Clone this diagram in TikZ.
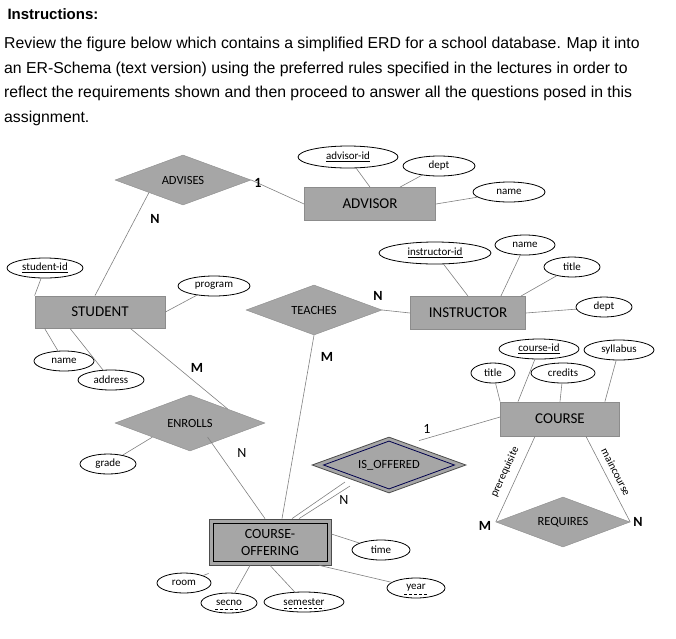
\documentclass[tikz,border=0pt]{standalone}
\usepackage{fontspec}
\setmainfont{Carlito}
\newfontfamily\arial{Liberation Sans}
\usetikzlibrary{shapes.geometric}
\definecolor{boxfill}{HTML}{A6A6A6}
\definecolor{boxline}{HTML}{8C8C8C}
\definecolor{ln}{HTML}{808080}
\begin{document}
\begin{tikzpicture}[x=1pt,y=-1pt,
  ent/.style={draw=boxline,fill=boxfill,minimum width=#1,minimum height=33,inner sep=0pt,font=\fontsize{15}{15}\selectfont,line width=0.8pt},
  rel/.style={diamond,aspect=2.7,draw=boxline,fill=boxfill,inner sep=0pt,font=\fontsize{12.5}{12.5}\selectfont},
  att/.style={ellipse,draw=black,fill=white,minimum height=20,minimum width=#1,inner sep=0pt,font=\fontsize{11}{11}\selectfont,line width=0.8pt},
  c/.style={draw=ln,line width=0.6pt},
  du/.style={dashed,line width=0.6pt,dash pattern=on 3pt off 2pt},
  card/.style={font=\bfseries\fontsize{14}{14}\selectfont},
  card2/.style={font=\fontsize{14}{14}\selectfont}]
\useasboundingbox (0,0) rectangle (676,638);
\node[anchor=west,font=\arial\bfseries\fontsize{15}{15}\selectfont] (ins) at (4,14) {Instructions:};
\node[anchor=north west,inner sep=0pt,align=left,font=\arial\fontsize{15.8}{24.5}\selectfont] (para) at (4,37)
{Review the figure below which contains a simplified ERD for a school database. Map it into\\ an ER-Schema (text version) using the preferred rules specified in the lectures in order to\\ reflect the requirements shown and then proceed to answer all the questions posed in this\\ assignment.};

% entities
\node[ent=131] (advisor) at (370,204) {ADVISOR};
\node[ent=130,minimum height=32] (student) at (100,312) {STUDENT};
\node[ent=115] (instr) at (468,313) {INSTRUCTOR};
\node[ent=119,minimum height=34] (course) at (560,419) {COURSE};
\node[ent=122,minimum height=46,draw=gray!60!black] (co) at (270,542) {};
\node[draw=black,line width=0.8pt,minimum width=114,minimum height=38,inner sep=0pt,align=center,font=\fontsize{14}{17}\selectfont] (coin) at (270,542) {COURSE-\\OFFERING};

% relationships
\node[rel,minimum width=136,minimum height=50] (advises) at (183,180) {ADVISES};
\node[rel,minimum width=136,minimum height=50] (teaches) at (314,310) {TEACHES};
\node[rel,minimum width=150,minimum height=56] (enrolls) at (190,423) {ENROLLS};
\node[rel,minimum width=134,minimum height=50] (requires) at (563,522) {REQUIRES};
\node[rel,minimum width=154,minimum height=56,line width=0.8pt,draw=gray!60!black] (isoff) at (389,465) {};
\draw[draw=blue!30!black,line width=0.8pt] ([xshift=12]isoff.west) -- ([yshift=-4.5]isoff.north) -- ([xshift=-12]isoff.east) -- ([yshift=4.5]isoff.south) -- cycle;
\node[font=\fontsize{12.5}{12.5}\selectfont] (isofftxt) at (389,465) {IS\_OFFERED};

% connectors
\draw[c] ([xshift=-5]student.north) -- (advises.south west);
\draw[c] (advises.east) -- (advisor.west);
\draw[c] ([xshift=-35]student.south east) -- (enrolls.north east);
\draw[c] ([xshift=-20]enrolls.south east) -- ([xshift=-5]co.north);
\draw[c] (teaches.east) -- (instr.west);
\draw[c] (teaches.south) -- ([xshift=12]co.north);
\coordinate (d1) at (345,482);
\coordinate (d2) at (350,486);
\draw[c] (d1) -- ([xshift=22]co.north);
\draw[c] (d2) -- ([xshift=29]co.north);
\draw[c] ([xshift=30,yshift=-4]isoff.north) -- ([yshift=2]course.west);
\draw[c] ([xshift=-25]course.south) -- (requires.west);
\draw[c] ([xshift=26]course.south) -- (requires.east);
\node[rotate=65.6,font=\fontsize{11}{11}\selectfont] (pre) at (505,472) {prerequisite};
\node[rotate=-63,font=\fontsize{11}{11}\selectfont] (mc) at (616,472) {maincourse};

% attributes
\node[att=100,minimum height=22] (advid) at (348,157) {\underline{advisor-id}};
\node[att=72] (adept) at (439,166) {dept};
\node[att=72] (aname) at (509,192) {name};
\draw[c] (advid) -- (advisor.north);
\draw[c] (adept) -- ([xshift=30]advisor.north);
\draw[c] (aname) -- (advisor.east);

\node[att=76] (sid) at (45,268) {\underline{student-id}};
\node[att=72] (prog) at (214,286) {program};
\node[att=60] (sname) at (64,361) {name};
\node[att=66] (addr) at (111,380) {address};
\draw[c] (sid) -- (student.north west);
\draw[c] (prog) -- (student.east);
\draw[c] (sname) -- ([xshift=10]student.south west);
\draw[c] (addr) -- ([xshift=-30]student.south);

\node[att=112,minimum height=22] (iid) at (435,253) {\underline{instructor-id}};
\node[att=60] (iname) at (525,245) {name};
\node[att=56] (ititle) at (572,267) {title};
\node[att=56] (idept) at (604,307) {dept};
\draw[c] (iid) -- (instr.north);
\draw[c] (iname) -- ([xshift=-25]instr.north east);
\draw[c] (ititle) -- ([xshift=-5]instr.north east);
\draw[c] (idept) -- (instr.east);

\node[att=56] (grade) at (108,464) {grade};
\draw[c] (grade) -- (enrolls.south west);

\node[att=80] (cid) at (539,349) {\underline{course-id}};
\node[att=70] (syl) at (619,350) {syllabus};
\node[att=44] (ctitle) at (493,373) {title};
\node[att=64] (cred) at (563,373) {credits};
\draw[c] (cid) -- ([xshift=-42]course.north);
\draw[c] (syl) -- ([xshift=-15]course.north east);
\draw[c] (ctitle) -- (course.north west);
\draw[c] (cred) -- (course.north);

\node[att=58] (time) at (381,550) {time};
\node[att=58] (year) at (416,588) {year};
\node[att=54] (room) at (184,583) {room};
\node[att=56] (secno) at (229,603) {secno};
\node[att=80] (sem) at (304,602) {semester};
\draw[du] ([xshift=-12,yshift=-6]year.center) -- ([xshift=12,yshift=-6]year.center);
\draw[du] ([xshift=-14,yshift=-6]secno.center) -- ([xshift=14,yshift=-6]secno.center);
\draw[du] ([xshift=-20,yshift=-6]sem.center) -- ([xshift=20,yshift=-6]sem.center);
\draw[c] (time) -- ([yshift=8]co.east);
\draw[c] (year) -- ([xshift=-12]co.south east);
\draw[c] (room) -- ([yshift=-8]co.south west);
\draw[c] (secno) -- ([xshift=-20]co.south);
\draw[c] (sem) -- (co.south);

% cardinalities
\node[card] (c1) at (258,183) {1};
\node[card] (c2) at (155,219) {N};
\node[card] (c3) at (378,296) {N};
\node[card] (c4) at (327,357) {M};
\node[card] (c5) at (197,368) {M};
\node[card2] (c6) at (242,453) {N};
\node[card2] (c7) at (427,429) {1};
\node[card2] (c8) at (344,500) {N};
\node[card] (c9) at (485,526) {M};
\node[card] (c10) at (638,522) {N};
\end{tikzpicture}
\end{document}
